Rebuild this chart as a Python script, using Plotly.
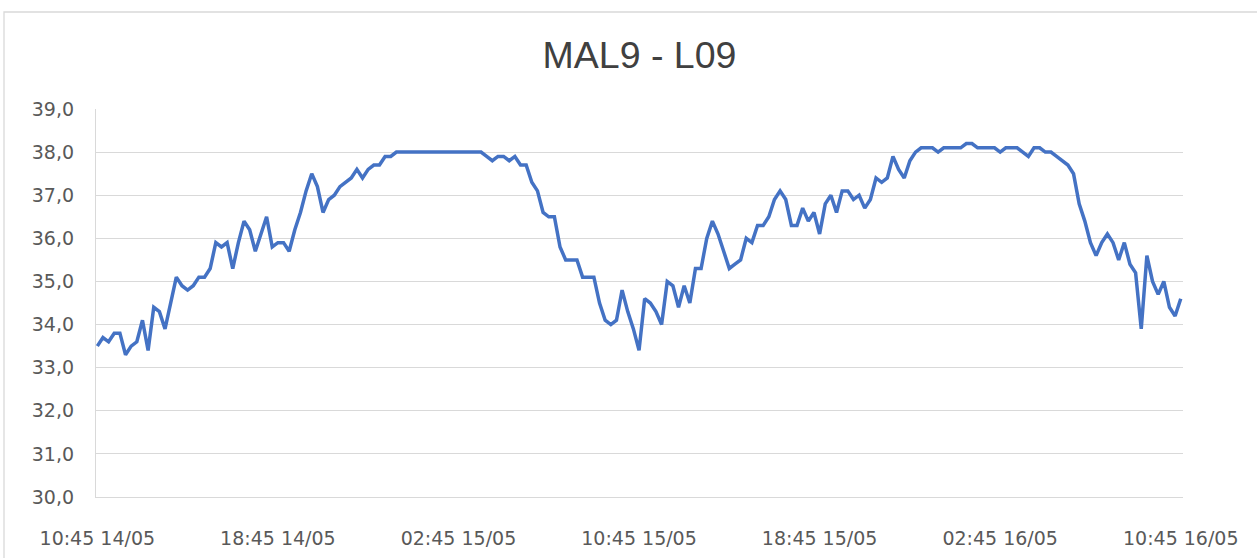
import pandas as pd
import plotly.graph_objects as go

title_text = "MAL9 - L09"
start_time = "2024-05-14 10:45"
step = "15min"

temps = [
    33.5, 33.7, 33.6, 33.8, 33.8, 33.3, 33.5, 33.6, 34.1, 33.4,
    34.4, 34.3, 33.9, 34.5, 35.1, 34.9, 34.8, 34.9, 35.1, 35.1,
    35.3, 35.9, 35.8, 35.9, 35.3, 35.9, 36.4, 36.2, 35.7, 36.1,
    36.5, 35.8, 35.9,
    35.9, 35.7, 36.2, 36.6, 37.1, 37.5, 37.2, 36.6, 36.9, 37.0,
    37.2, 37.3, 37.4, 37.6, 37.4, 37.6, 37.7, 37.7, 37.9, 37.9,
    38.0, 38.0, 38.0, 38.0, 38.0, 38.0, 38.0, 38.0, 38.0, 38.0,
    38.0, 38.0, 38.0, 38.0, 38.0, 38.0,
    37.9, 37.8, 37.9, 37.9, 37.8, 37.9, 37.7, 37.7, 37.3, 37.1,
    36.6, 36.5, 36.5, 35.8, 35.5, 35.5, 35.5, 35.1, 35.1, 35.1,
    34.5, 34.1, 34.0, 34.1, 34.8, 34.3, 33.9, 33.4,
    34.6, 34.5, 34.3, 34.0, 35.0, 34.9, 34.4, 34.9, 34.5, 35.3,
    35.3, 36.0, 36.4, 36.1, 35.7, 35.3, 35.4, 35.5, 36.0, 35.9,
    36.3, 36.3, 36.5, 36.9, 37.1, 36.9, 36.3, 36.3, 36.7, 36.4,
    36.6, 36.1, 36.8, 37.0, 36.6, 37.1, 37.1, 36.9, 37.0, 36.7,
    36.9, 37.4, 37.3, 37.4, 37.9, 37.6, 37.4, 37.8, 38.0, 38.1,
    38.1, 38.1, 38.0, 38.1, 38.1, 38.1, 38.1, 38.2, 38.2, 38.1,
    38.1, 38.1, 38.1, 38.0, 38.1, 38.1, 38.1, 38.0, 37.9, 38.1,
    38.1, 38.0, 38.0, 37.9, 37.8, 37.7, 37.5, 36.8, 36.4, 35.9,
    35.6, 35.9, 36.1, 35.9, 35.5, 35.9, 35.4, 35.2, 33.9, 35.6,
    35.0, 34.7, 35.0, 34.4, 34.2, 34.6,
]

tick_times = ["2024-05-14 10:45", "2024-05-14 18:45", "2024-05-15 02:45",
              "2024-05-15 10:45", "2024-05-15 18:45", "2024-05-16 02:45",
              "2024-05-16 10:45"]
tick_labels = ["10:45 14/05", "18:45 14/05", "02:45 15/05", "10:45 15/05",
               "18:45 15/05", "02:45 16/05", "10:45 16/05"]
y_ticks = [30, 31, 32, 33, 34, 35, 36, 37, 38, 39]

times = pd.date_range(start=start_time, periods=len(temps), freq=step)

W, H = 1257, 558
L, R, T, B = 96, 74, 109, 61
pw, ph = W - L - R, H - T - B

fig = go.Figure()
fig.add_trace(go.Scatter(
    x=times, y=temps, mode="lines",
    line=dict(color="#4472C4", width=3.5, shape="linear"),
    showlegend=False,
))

def px_x(p):
    return (p - L) / pw

def px_y(p):
    return (H - B - p) / ph

fig.add_shape(type="rect", xref="paper", yref="paper",
              x0=px_x(4), x1=px_x(1265), y0=px_y(566), y1=px_y(12),
              line=dict(color="#d9d9d9", width=1.3), fillcolor="rgba(0,0,0,0)",
              layer="below")

fig.update_layout(
    width=W, height=H,
    margin=dict(l=L, r=R, t=T, b=B, autoexpand=False),
    paper_bgcolor="white", plot_bgcolor="white",
    separators=",.",
    title=dict(text=title_text, x=0.5, xref="paper", xanchor="center",
               y=1 - 55 / H, yref="container", yanchor="middle",
               font=dict(family="Liberation Sans", size=37.5, color="#404040")),
    font=dict(family="DejaVu Sans", size=19, color="#595959"),
    xaxis=dict(
        type="date", automargin=False,
        range=[pd.Timestamp("2024-05-14 10:41:30"), pd.Timestamp("2024-05-16 10:51:00")],
        tickmode="array", tickvals=[pd.Timestamp(t) for t in tick_times],
        ticktext=tick_labels, showgrid=False, zeroline=False,
        showline=True, linecolor="#d9d9d9", linewidth=1.3,
        ticks="", ticklabelstandoff=24,
        tickfont=dict(family="DejaVu Sans", size=19, color="#595959"),
    ),
    yaxis=dict(
        automargin=False,
        range=[30, 39], tickmode="array", tickvals=y_ticks,
        tickformat=".1f", showgrid=True, gridcolor="#d9d9d9", gridwidth=1.3,
        zeroline=False, showline=True, linecolor="#d9d9d9", linewidth=1.3,
        ticks="", ticklabelstandoff=17,
        tickfont=dict(family="DejaVu Sans", size=19, color="#595959"),
    ),
)

fig.write_html("out.html",
               config={"displayModeBar": False},
               post_script="document.body.style.margin='0';document.body.style.overflow='hidden';")
